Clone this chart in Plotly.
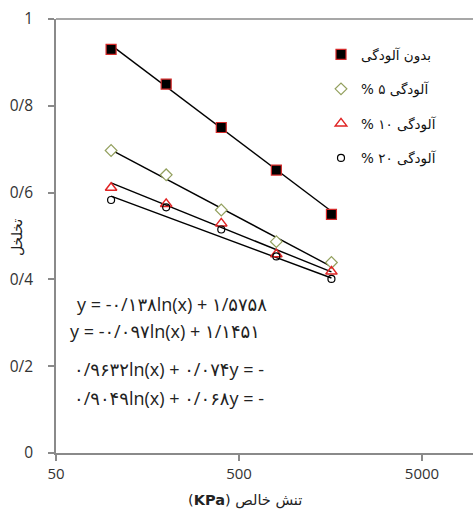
import plotly.graph_objects as go
import math

# ---- data ----
stress_kpa = [100, 200, 400, 800, 1600]
no_pollution = [0.930, 0.850, 0.750, 0.652, 0.550]
pollution_5 = [0.697, 0.641, 0.560, 0.487, 0.439]
pollution_10 = [0.611, 0.574, 0.529, 0.458, 0.418]
pollution_20 = [0.583, 0.566, 0.515, 0.453, 0.401]

series_names = ["بدون آلودگی", "آلودگی ۵ %", "آلودگی ۱۰ %", "آلودگی ۲۰ %"]

# trendline coefficients y = a*ln(x) + b
trend_a = [-0.1381, -0.097, -0.074, -0.068]
trend_b = [1.5758, 1.1451, 0.9632, 0.9049]
equation_texts = [
    "y = -۰/۱۳۸ln(x) + ۱/۵۷۵۸",
    "y = -۰/۰۹۷ln(x) + ۱/۱۴۵۱",
    "۰/۹۶۳۲ln(x) + ۰/۰۷۴y = -",
    "۰/۹۰۴۹ln(x) + ۰/۰۶۸y = -",
]

y_tickvals = [0, 0.2, 0.4, 0.6, 0.8, 1]
y_ticktext = ["0", "0/2", "0/4", "0/6", "0/8", "1"]
x_tickvals = [50, 500, 5000]
x_ticktext = ["50", "500", "5000"]

x_title = "تنش خالص (<b>KPa</b>)"
y_title = "تخلخل"

RLE = "\u202b"
PDF = "\u202c"

W, H = 473, 513
ML, MR, MT, MB = 56, 0, 19, 60
pw = W - ML - MR
ph = H - MT - MB

def px2paper_x(px):
    return (px - ML) / pw

def px2paper_y(py):
    return (H - MB - py) / ph

series_vals = [no_pollution, pollution_5, pollution_10, pollution_20]
markers = [
    dict(symbol="square", size=10, color="black", line=dict(color="#d42a2a", width=1.2)),
    dict(symbol="diamond", size=9, color="white", line=dict(color="#93a05e", width=1.2)),
    dict(symbol="triangle-up-open", size=10, color="#e02424", line=dict(color="#e02424", width=1.5)),
    dict(symbol="circle-open", size=7, color="black", line=dict(color="black", width=1.2)),
]

fig = go.Figure()

# trendlines
for a, b in zip(trend_a, trend_b):
    fig.add_trace(go.Scatter(
        x=stress_kpa,
        y=[a * math.log(v) + b for v in stress_kpa],
        mode="lines",
        line=dict(color="black", width=1.4),
        showlegend=False,
        hoverinfo="skip",
    ))

for i, (name, vals, mk) in enumerate(zip(series_names, series_vals, markers)):
    fig.add_trace(go.Scatter(
        x=stress_kpa, y=vals, mode="markers",
        name=RLE + name + PDF,
        marker=mk,
        legendgroup=f"g{i}",
    ))

# equation annotations
eq_pos = [(171.5, 304), (165, 331), (168.5, 369), (168.5, 398)]
for txt, (px, py) in zip(equation_texts, eq_pos):
    fig.add_annotation(
        x=px2paper_x(px), y=px2paper_y(py), xref="paper", yref="paper",
        text=txt, showarrow=False, xanchor="center", yanchor="middle",
        font=dict(family="Open Sans, DejaVu Sans, sans-serif", size=18, color="#222"),
    )

# axis titles
fig.add_annotation(
    x=px2paper_x(245), y=px2paper_y(500), xref="paper", yref="paper",
    text=RLE + x_title + PDF, showarrow=False, xanchor="center", yanchor="middle",
    font=dict(family="DejaVu Sans, Open Sans, sans-serif", size=14.5, color="#222"),
)
fig.add_annotation(
    x=px2paper_x(17), y=px2paper_y(238), xref="paper", yref="paper",
    text=y_title, showarrow=False, xanchor="center", yanchor="middle", textangle=-90,
    font=dict(family="DejaVu Sans, Open Sans, sans-serif", size=14, color="#222"),
)

axis_color = "#8a8a8a"
x0 = math.log10(50)
x1 = x0 + (W - ML) / 183.0

# top border line of plot area
fig.add_shape(type="line", xref="paper", yref="paper", x0=0, x1=1.05, y0=1, y1=1,
              line=dict(color=axis_color, width=1.5))

fig.update_layout(
    width=W, height=H,
    autosize=False,
    margin=dict(l=ML, r=MR, t=MT, b=MB),
    plot_bgcolor="white", paper_bgcolor="white",
    font=dict(family="Open Sans, sans-serif", size=15, color="#222"),
    showlegend=True,
    legend=dict(
        x=px2paper_x(321), y=px2paper_y(39), xanchor="left", yanchor="top",
        bgcolor="rgba(0,0,0,0)", tracegroupgap=14,
        font=dict(family="DejaVu Sans, sans-serif", size=13.5, color="#111"),
        itemwidth=30,
    ),
    xaxis=dict(
        type="log", range=[x0, x1],
        tickvals=x_tickvals, ticktext=x_ticktext,
        showgrid=False, zeroline=False,
        showline=True, linecolor=axis_color, linewidth=1.5, mirror=False,
        ticks="outside", ticklen=6, tickcolor=axis_color, tickwidth=1.5,
        tickfont=dict(size=15, color="#333"),
    ),
    yaxis=dict(
        range=[0, 1],
        tickvals=y_tickvals, ticktext=y_ticktext,
        showgrid=False, zeroline=False,
        showline=True, linecolor=axis_color, linewidth=1.5,
        ticks="outside", ticklen=6, tickcolor=axis_color, tickwidth=1.5,
        ticklabelstandoff=12,
        tickfont=dict(size=15.5, color="#333"),
    ),
)

post = "document.body.style.margin='0';document.body.style.padding='0';document.body.style.overflow='hidden';"
fig.write_html("out.html", config={"responsive": False, "displayModeBar": False}, post_script=post)
